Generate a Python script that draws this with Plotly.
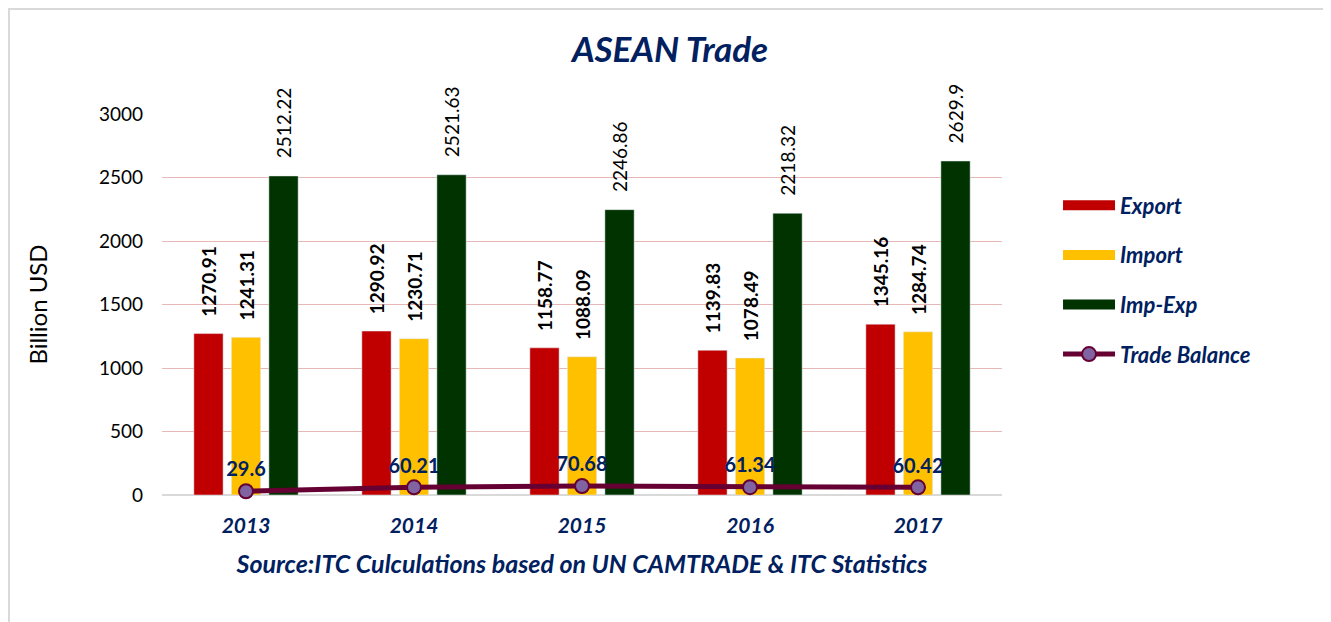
import plotly.graph_objects as go

years = ["2013", "2014", "2015", "2016", "2017"]
export_vals = [1270.91, 1290.92, 1158.77, 1139.83, 1345.16]
import_vals = [1241.31, 1230.71, 1088.09, 1078.49, 1284.74]
impexp_vals = [2512.22, 2521.63, 2246.86, 2218.32, 2629.9]
balance_vals = [29.6, 60.21, 70.68, 61.34, 60.42]
y_ticks = [0, 500, 1000, 1500, 2000, 2500, 3000]

NAVY = "#002060"
FONT = "Lato"
PAD = "\u00a0\u00a0\u00a0"

C_EXP = "#C00000"
C_IMP = "#FFC000"
C_IE = "#003300"
C_TB = "#660033"

def fmt(v):
    return ("%.2f" % v).rstrip("0").rstrip(".")

fig = go.Figure()
fig.add_trace(go.Bar(
    x=years, y=export_vals, name="Export", marker_color=C_EXP,
    text=[PAD + fmt(v) for v in export_vals], textposition="outside", textangle=-90,
    textfont=dict(family=FONT, size=19, color="black", weight="bold"),
    cliponaxis=False, constraintext="none", showlegend=False,
))
fig.add_trace(go.Bar(
    x=years, y=import_vals, name="Import", marker_color=C_IMP,
    text=[PAD + fmt(v) for v in import_vals], textposition="outside", textangle=-90,
    textfont=dict(family=FONT, size=19, color="black", weight="bold"),
    cliponaxis=False, constraintext="none", showlegend=False,
))
fig.add_trace(go.Bar(
    x=years, y=impexp_vals, name="Imp-Exp", marker_color=C_IE,
    text=[PAD + fmt(v) for v in impexp_vals], textposition="outside", textangle=-90,
    textfont=dict(family=FONT, size=19, color="black"),
    cliponaxis=False, constraintext="none", showlegend=False,
))
fig.add_trace(go.Scatter(
    x=years, y=balance_vals, name="Trade Balance", mode="lines+markers+text",
    line=dict(color=C_TB, width=5),
    marker=dict(size=14, color="#8064A2", line=dict(color=C_TB, width=2)),
    text=[fmt(v) for v in balance_vals], textposition="top center",
    textfont=dict(family=FONT, size=20, color=NAVY, weight="bold"),
    cliponaxis=False, showlegend=False,
))

# legend entries (wide swatches like the original)
for nm, col in [("Export", C_EXP), ("Import", C_IMP), ("Imp-Exp", C_IE)]:
    fig.add_trace(go.Scatter(x=[None], y=[None], mode="lines", name=nm,
                             line=dict(color=col, width=14), legendgroup=nm))
fig.add_trace(go.Scatter(x=[None], y=[None], mode="lines+markers", name="Trade Balance",
                         line=dict(color=C_TB, width=5),
                         marker=dict(size=14, color="#8064A2", line=dict(color=C_TB, width=2)),
                         legendgroup="tb"))

W, H = 1323, 614
L, T, PW, PH = 154, 106, 840, 381

fig.update_layout(
    width=W, height=H,
    paper_bgcolor="white", plot_bgcolor="white",
    margin=dict(l=L, r=W - L - PW, t=T, b=H - T - PH),
    barmode="group", bargap=0.33, bargroupgap=0.22,
    title=dict(text="<b><i>ASEAN Trade</i></b>", x=(670 - 8) / W, xref="container", xanchor="center",
               y=1 - (50 - 8) / H, yanchor="middle",
               font=dict(family=FONT, size=35, color=NAVY)),
    font=dict(family=FONT, color="black"),
    legend=dict(x=1.0667, y=0.815, xanchor="left", yanchor="top",
                font=dict(family=FONT, size=22, color=NAVY, style="italic", weight="bold"),
                tracegroupgap=18, itemwidth=52, bgcolor="rgba(0,0,0,0)"),
    xaxis=dict(
        tickfont=dict(family=FONT, size=21, color=NAVY, style="italic", weight="bold"),
        ticks="", showgrid=False, showline=False, ticklabelstandoff=16,
        title=dict(text="<b><i>Source:ITC Culculations based on UN CAMTRADE & ITC Statistics</i></b>",
                   font=dict(family=FONT, size=25, color=NAVY), standoff=19),
    ),
    yaxis=dict(
        range=[0, 3000], tickvals=y_ticks, ticks="",
        tickfont=dict(family=FONT, size=19, color="black"),
        gridcolor="#E6B9B8", gridwidth=1.3,
        zeroline=True, zerolinecolor="#D9D9D9", zerolinewidth=2,
        ticklabelstandoff=18,
        title=dict(text="Billion USD", font=dict(family=FONT, size=24, color="black"), standoff=44),
    ),
)

def px_x(p):
    return (p - 162) / PW

def px_y(p):
    return (494 - p) / PH

fig.add_shape(type="rect", xref="paper", yref="paper",
              x0=px_x(9), x1=px_x(1329), y0=px_y(660), y1=px_y(8),
              line=dict(color="#D9D9D9", width=2), fillcolor="rgba(0,0,0,0)", layer="below")

fig.write_html("out.html")
